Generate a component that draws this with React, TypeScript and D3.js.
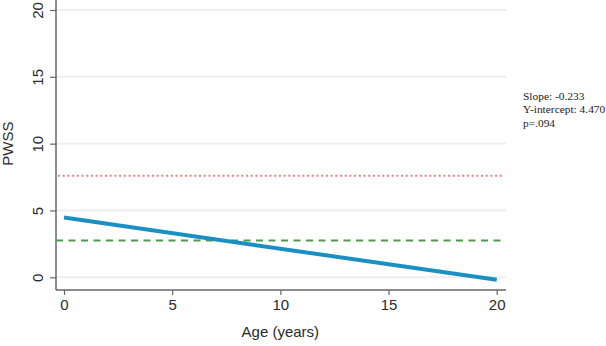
import {useEffect, useRef} from 'react';
import * as d3 from 'd3';

const [W, H] = [606, 346];

// axis ticks
const xTicks = [0, 5, 10, 15, 20];
const yTicks = [0, 5, 10, 15, 20];

// regression fit over the age range
const ageRange = [0, 20];
const slope = -0.233;
const intercept = 4.470;
const pValue = '.094';

// horizontal reference levels
const upperLevel = 7.6;
const lowerLevel = 2.75;

const statLines = [
    `Slope: ${slope.toFixed(3)}`,
    `Y-intercept: ${intercept.toFixed(3)}`,
    `p=${pValue}`,
];

const SANS = '"Liberation Sans", Arial, sans-serif';

function App() {
    const svgRef = useRef<SVGSVGElement>(null);

    useEffect(() => {
        if (!svgRef.current) return;
        const svg = d3.select(svgRef.current);
        svg.selectAll('*').remove();

        const x = d3.scaleLinear().domain([0, 20]).range([64, 496.7]);
        const y = d3.scaleLinear().domain([0, 20]).range([277.3, 10]);
        const left = 56, right = 506, bottom = 290;

        // gridlines
        svg.append('g')
            .selectAll('line')
            .data(yTicks)
            .join('line')
            .attr('x1', left)
            .attr('x2', right)
            .attr('y1', d => y(d))
            .attr('y2', d => y(d))
            .attr('stroke', '#eeeeee')
            .attr('stroke-width', 2);

        // y axis
        const yAxis = svg.append('g')
            .attr('transform', `translate(${left},0)`)
            .call(d3.axisLeft(y).tickValues(yTicks).tickSize(6).tickPadding(0).tickFormat(d3.format('d')));
        yAxis.select('.domain').attr('d', `M0,0V${bottom}`).attr('stroke', '#666').attr('stroke-width', 1.5);
        yAxis.selectAll('.tick line').attr('stroke', '#666').attr('stroke-width', 1.2);
        yAxis.selectAll('.tick text')
            .attr('x', 0)
            .attr('dy', 0)
            .attr('transform', 'translate(-19,0) rotate(-90)')
            .attr('text-anchor', 'middle')
            .attr('dominant-baseline', 'central')
            .style('font-family', SANS)
            .style('font-size', '15px')
            .style('fill', '#2a2a2a');

        // x axis
        const xAxis = svg.append('g')
            .attr('transform', `translate(0,${bottom})`)
            .call(d3.axisBottom(x).tickValues(xTicks).tickSize(5).tickPadding(4).tickFormat(d3.format('d')));
        xAxis.select('.domain').attr('d', `M${left},0H${right}`).attr('stroke', '#666').attr('stroke-width', 1.5);
        xAxis.selectAll('.tick line').attr('stroke', '#666').attr('stroke-width', 1.2);
        xAxis.selectAll('.tick text')
            .style('font-family', SANS)
            .style('font-size', '15px')
            .style('fill', '#2a2a2a');

        // reference levels
        svg.append('line')
            .attr('x1', left + 2).attr('x2', right - 4)
            .attr('y1', y(upperLevel)).attr('y2', y(upperLevel))
            .attr('stroke', '#f07f7f')
            .attr('stroke-width', 2)
            .attr('stroke-dasharray', '2,2.7');

        svg.append('line')
            .attr('x1', left).attr('x2', right - 3)
            .attr('y1', y(lowerLevel)).attr('y2', y(lowerLevel))
            .attr('stroke', '#4f9a48')
            .attr('stroke-width', 2)
            .attr('stroke-dasharray', '7,5.5');

        // fitted line
        const fit = d3.line<number>()
            .x(d => x(d))
            .y(d => y(intercept + slope * d));
        svg.append('path')
            .datum(ageRange)
            .attr('d', fit)
            .attr('fill', 'none')
            .attr('stroke', '#1a8fc2')
            .attr('stroke-width', 4);

        // axis titles
        svg.append('text')
            .attr('x', x(10))
            .attr('y', 331)
            .attr('text-anchor', 'middle')
            .attr('dominant-baseline', 'central')
            .style('font-family', SANS)
            .style('font-size', '15px')
            .style('fill', '#2a2a2a')
            .text('Age (years)');

        svg.append('text')
            .attr('transform', `translate(7,${y(10)}) rotate(-90)`)
            .attr('text-anchor', 'middle')
            .attr('dominant-baseline', 'central')
            .style('font-family', SANS)
            .style('font-size', '15px')
            .style('fill', '#2a2a2a')
            .text('PWSS');

        // regression stats
        svg.append('g')
            .selectAll('text')
            .data(statLines)
            .join('text')
            .attr('x', 523)
            .attr('y', (d, i) => 95.7 + i * 13.5)
            .attr('dominant-baseline', 'central')
            .style('font-family', '"Liberation Serif", "Times New Roman", serif')
            .style('font-size', '11.4px')
            .style('fill', '#222')
            .text(d => d);
    }, []);

    return (
        <div style={{width: '100%'}}>
            <svg ref={svgRef} width={W} height={H}
                style={{position: 'absolute', left: 0, top: 0, background: '#fff'}} />
        </div>
    );
}

export default App;
